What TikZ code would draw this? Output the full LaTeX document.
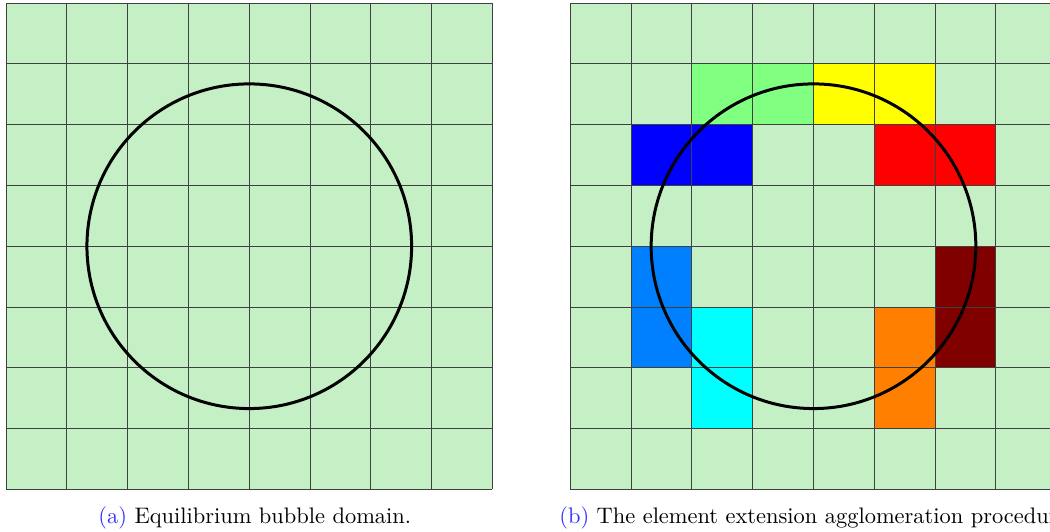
\documentclass[tikz,border=0pt]{standalone}
\usepackage{tikz}
\usetikzlibrary{positioning}

\definecolor{meshgreen}{RGB}{197,239,197}
\definecolor{capblue}{RGB}{50,50,255}
\definecolor{aggA}{RGB}{128,255,128}
\definecolor{aggB}{RGB}{255,255,0}
\definecolor{aggC}{RGB}{0,0,255}
\definecolor{aggD}{RGB}{255,0,0}
\definecolor{aggE}{RGB}{0,128,255}
\definecolor{aggF}{RGB}{128,0,0}
\definecolor{aggG}{RGB}{0,255,255}
\definecolor{aggH}{RGB}{255,128,0}

\begin{document}
\begin{tikzpicture}[
      mesh/.style={draw=black!75, line width=0.45pt},
      bubble/.style={draw=black, line width=1.4pt},
      subcap/.style={font=\fontsize{10.5}{12.5}\selectfont, inner sep=0pt}]
    \useasboundingbox (-0.1,-0.70) rectangle (17.17,8.05);
    % (a) bubble on the background mesh
    \fill[meshgreen] (0,0) rectangle (8,8);
    \draw[mesh] (0,0) grid (8,8);
    \draw[bubble] (4,4) circle (2.67);
    \node[subcap] (capa) at (4.09,-0.46) {\textcolor{capblue}{(a)} Equilibrium bubble domain.};
    % (b) extended elements
    \begin{scope}[xshift=9.28cm]
      \fill[meshgreen] (0,0) rectangle (8,8);
      \foreach \c/\r/\col in {2/1/aggA,3/1/aggA,4/1/aggB,5/1/aggB,
                              1/2/aggC,2/2/aggC,5/2/aggD,6/2/aggD,
                              1/4/aggE,1/5/aggE,6/4/aggF,6/5/aggF,
                              2/5/aggG,2/6/aggG,5/5/aggH,5/6/aggH}
        \fill[\col] (\c,7-\r) rectangle ++(1,1);
      \draw[mesh] (0,0) grid (8,8);
      \draw[bubble] (4,4) circle (2.67);
      \node[subcap] (capb) at (4.05,-0.46) {\textcolor{capblue}{(b)} The element extension agglomeration procedure.};
    \end{scope}
\end{tikzpicture}
\end{document}
